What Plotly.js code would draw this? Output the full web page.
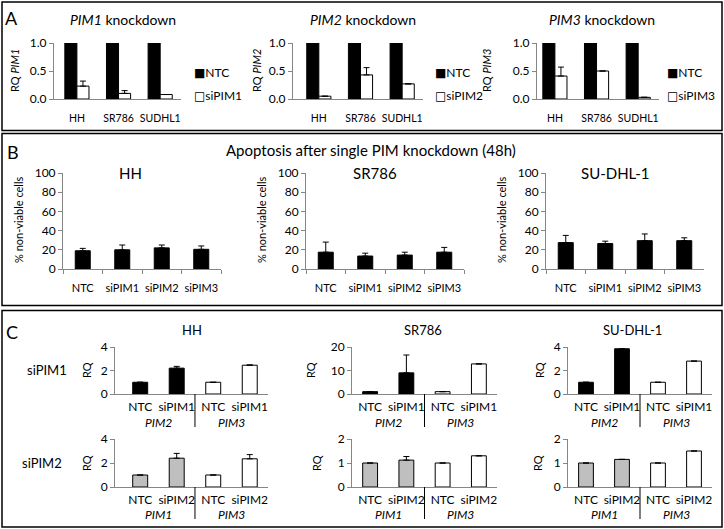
<!DOCTYPE html>
<html><head><meta charset="utf-8">
<script src="https://cdn.plot.ly/plotly-3.0.1.min.js"></script>
<style>html,body{margin:0;padding:0;background:#fff}#chart{width:724px;height:529px}</style>
</head><body><div id="chart"></div>
<script>
// ---------------- data ----------------
// Panel A: knockdown efficiency (RQ)
const aCells = ['HH', 'SR786', 'SUDHL1'];
const aGenes = ['PIM1', 'PIM2', 'PIM3'];
const aSiNames = ['siPIM1', 'siPIM2', 'siPIM3'];
const aNTC = [1, 1, 1];
const aSiPIM1 = [0.23, 0.10, 0.08];
const aSiPIM1Err = [0.09, 0.05, 0];
const aSiPIM2 = [0.05, 0.43, 0.27];
const aSiPIM2Err = [0, 0.13, 0];
const aSiPIM3 = [0.41, 0.50, 0.03];
const aSiPIM3Err = [0.16, 0, 0];

// Panel B: % non-viable cells
const bTitle = 'Apoptosis after single PIM knockdown (48h)';
const bCats = ['NTC', 'siPIM1', 'siPIM2', 'siPIM3'];
const bLines = ['HH', 'SR786', 'SU-DHL-1'];
const bHH = [19, 20, 22, 20.5];
const bHHErr = [2.5, 5, 3, 3.5];
const bSR786 = [17.5, 13.5, 14.5, 17.5];
const bSR786Err = [10.5, 3, 3, 5];
const bSUDHL1 = [27.5, 26.5, 29.5, 29.5];
const bSUDHL1Err = [7.5, 2.5, 7, 3];

// Panel C: cross-regulation (RQ)
const cLines = ['HH', 'SR786', 'SU-DHL-1'];
const cRows = ['siPIM1', 'siPIM2'];
const cCats1 = ['NTC', 'siPIM1', 'NTC', 'siPIM1'];
const cGroups1 = ['PIM2', 'PIM3'];
const cHH1 = [1, 2.2, 1, 2.45];
const cHH1Err = [0, 0.15, 0, 0.03];
const cSR7861 = [1, 9, 1, 12.8];
const cSR7861Err = [0, 7.6, 0, 0];
const cSUDHL11 = [1, 3.85, 1, 2.8];
const cSUDHL11Err = [0, 0, 0, 0];
const cCats2 = ['NTC', 'siPIM2', 'NTC', 'siPIM2'];
const cGroups2 = ['PIM1', 'PIM3'];
const cHH2 = [1, 2.4, 1, 2.35];
const cHH2Err = [0, 0.4, 0, 0.35];
const cSR7862 = [1, 1.12, 1, 1.3];
const cSR7862Err = [0, 0.15, 0, 0];
const cSUDHL12 = [1, 1.15, 1, 1.5];
const cSUDHL12Err = [0, 0, 0, 0];

// ---------------- layout helpers ----------------
const W = 724, H = 529;
const fx = p => p / W;
const fy = p => 1 - p / H;
const FONT = 'Lato, "Liberation Sans", sans-serif';
const AX = '#868686';
const GREY = '#bfbfbf';

const traces = [];
const layout = {
  width: W, height: H,
  margin: {l: 0, r: 0, t: 0, b: 0},
  paper_bgcolor: '#fff', plot_bgcolor: 'rgba(0,0,0,0)',
  font: {family: FONT, color: '#000', size: 12},
  barmode: 'overlay',
  showlegend: false,
  annotations: [], shapes: []
};

function ann(text, x, y, size, extra) {
  layout.annotations.push(Object.assign({
    text: text, x: fx(x), y: fy(y), xref: 'paper', yref: 'paper',
    showarrow: false, xanchor: 'center', yanchor: 'middle',
    font: {family: FONT, size: size, color: '#000'}
  }, extra || {}));
}

function errY(arr) {
  return {type: 'data', array: arr, arrayminus: arr.map(() => 0), symmetric: false,
          color: '#000', thickness: 1, width: 3};
}

function setAxes(n, xdom, xrange, ydom, yrange, ytickvals, ytickformat, xextra, yextra) {
  const xs = n === 1 ? 'xaxis' : 'xaxis' + n;
  const ys = n === 1 ? 'yaxis' : 'yaxis' + n;
  layout[xs] = Object.assign({
    domain: [fx(xdom[0]), fx(xdom[1])], range: xrange, anchor: 'y' + n,
    showline: true, linecolor: AX, linewidth: 1, showgrid: false, zeroline: false,
    ticks: '', tickangle: 0, automargin: false, fixedrange: true,
    tickfont: {family: FONT, size: 12, color: '#000'}
  }, xextra || {});
  layout[ys] = Object.assign({
    domain: [fy(ydom[1]), fy(ydom[0])], range: yrange, anchor: 'x' + n,
    showline: true, linecolor: AX, linewidth: 1, showgrid: false, zeroline: false,
    ticks: 'outside', ticklen: 4, tickcolor: AX, tickvals: ytickvals,
    tickformat: ytickformat, fixedrange: true, automargin: false,
    tickfont: {family: FONT, size: 12, color: '#000'}
  }, yextra || {});
}

// ---------------- Panel A ----------------
const aSi = [aSiPIM1, aSiPIM2, aSiPIM3];
const aSiErr = [aSiPIM1Err, aSiPIM2Err, aSiPIM3Err];
const aPos = [
  {x0: 54, x1: 181, r0: -0.55, yl: 15, tc: 123, lg: 192},
  {x0: 293, x1: 423, r0: -0.62, yl: 257, tc: 363, lg: 433},
  {x0: 537, x1: 659, r0: -0.43, yl: 487, tc: 602, lg: 665}
];
aGenes.forEach((g, i) => {
  const n = i + 1;
  traces.push({
    type: 'bar', x: aCells, y: aNTC, name: 'NTC', xaxis: 'x' + n, yaxis: 'y' + n,
    offset: -0.29, width: 0.29,
    marker: {color: '#000', line: {color: '#000', width: 1}}, hoverinfo: 'none'
  });
  traces.push({
    type: 'bar', x: aCells, y: aSi[i], name: aSiNames[i], xaxis: 'x' + n, yaxis: 'y' + n,
    offset: 0, width: 0.29,
    marker: {color: '#fff', line: {color: '#000', width: 1}},
    error_y: errY(aSiErr[i]), hoverinfo: 'none'
  });
  const p = aPos[i];
  setAxes(n, [p.x0, p.x1], [p.r0, 2.5], [43, 99], [0, 1], [0, 0.5, 1], '.1f',
          {ticklabelstandoff: 9, tickfont: {family: FONT, size: 10.5, color: '#000'}}, {});
  // legend keys (per subplot)
  ann('<span style="font-family:DejaVu Sans">■</span>NTC', p.lg, 73, 12, {xanchor: 'left'});
  ann('<span style="font-family:DejaVu Sans">□</span>' + aSiNames[i], p.lg, 96, 12, {xanchor: 'left'});
  ann('<i>' + g + '</i> knockdown', p.tc, 19, 14);
  ann('RQ <i>' + g + '</i>', p.yl, 71, 11, {textangle: -90});
});
ann('A', 11, 18, 18);

// ---------------- Panel B ----------------
const bVals = [bHH, bSR786, bSUDHL1];
const bErrs = [bHHErr, bSR786Err, bSUDHL1Err];
const bPos = [
  {x0: 63, x1: 221, yl: 18, tc: 130},
  {x0: 306, x1: 464, yl: 261, tc: 375},
  {x0: 546, x1: 704, yl: 501, tc: 615}
];
bLines.forEach((cl, i) => {
  const n = i + 4;
  traces.push({
    type: 'bar', x: bCats, y: bVals[i], xaxis: 'x' + n, yaxis: 'y' + n,
    width: 0.38,
    marker: {color: '#000', line: {color: '#000', width: 1}},
    error_y: errY(bErrs[i]), hoverinfo: 'none'
  });
  const p = bPos[i];
  setAxes(n, [p.x0, p.x1], [-0.5, 3.5], [173, 269], [0, 100], [0, 20, 40, 60, 80, 100], 'd',
          {ticks: 'outside', tickson: 'boundaries', ticklen: 4, tickcolor: AX, ticklabelstandoff: 9,
           tickfont: {family: FONT, size: 11, color: '#000'}}, {});
  ann(cl, p.tc, 173, 15);
  ann('% non-viable cells', p.yl, 220, 11, {textangle: -90});
});
ann('B', 13, 152, 18);
ann(bTitle, 371, 150, 15);

// ---------------- Panel C ----------------
const cVals = [[cHH1, cSR7861, cSUDHL11], [cHH2, cSR7862, cSUDHL12]];
const cErrs = [[cHH1Err, cSR7861Err, cSUDHL11Err], [cHH2Err, cSR7862Err, cSUDHL12Err]];
const cCats = [cCats1, cCats2];
const cGroups = [cGroups1, cGroups2];
const cRowColors = [['#000', '#000', '#fff', '#fff'], [GREY, GREY, '#fff', '#fff']];
const cRowY = [{top: 347, bot: 394, grp: 422, sepEnd: 427, mid: 370},
               {top: 439, bot: 487, grp: 514, sepEnd: 519, mid: 463}];
const cColX = [{x0: 115, x1: 268, r0: -0.69, tc: 192, yl: [86, 86]},
               {x0: 352, x1: 497, r0: -0.5, tc: 423, yl: [310, 316]},
               {x0: 568, x1: 712, r0: -0.5, tc: 632, yl: [539, 537]}];
const cRanges = [[[0, 4], [0, 20], [0, 4]], [[0, 4], [0, 2], [0, 2]]];
const cTicks = [[[0, 2, 4], [0, 10, 20], [0, 2, 4]], [[0, 2, 4], [0, 1, 2], [0, 1, 2]]];

cRows.forEach((row, r) => {
  cLines.forEach((cl, c) => {
    const n = 7 + r * 3 + c;
    const xs = cCats[r].map((_, i) => i);
    traces.push({
      type: 'bar', x: xs, y: cVals[r][c], xaxis: 'x' + n, yaxis: 'y' + n,
      width: 0.41,
      marker: {color: cRowColors[r], line: {color: '#000', width: 1}},
      error_y: errY(cErrs[r][c]), hoverinfo: 'none'
    });
    const p = cColX[c], q = cRowY[r];
    setAxes(n, [p.x0, p.x1], [p.r0, 3.5], [q.top, q.bot], cRanges[r][c], cTicks[r][c], 'd',
            {tickmode: 'array', tickvals: xs, ticktext: cCats[r], ticklabelstandoff: 2}, {});
    const half = cCats[r].length / 2;
    cGroups[r].forEach((g, gi) => {
      layout.annotations.push({
        text: '<i>' + g + '</i>', x: gi * half + (half - 1) / 2, y: fy(q.grp),
        xref: 'x' + n, yref: 'paper', showarrow: false, xanchor: 'center', yanchor: 'middle',
        font: {family: FONT, size: 12, color: '#000'}
      });
    });
    layout.shapes.push({
      type: 'line', xref: 'x' + n, yref: 'paper', x0: half - 0.5, x1: half - 0.5,
      y0: fy(q.bot), y1: fy(q.sepEnd), line: {color: '#000', width: 1}
    });
    ann('RQ', p.yl[r], q.mid, 11, {textangle: -90});
    if (r === 0) ann(cl, p.tc, 330, 13);
  });
  ann(row, r === 0 ? 47 : 42, cRowY[r].mid, 13);
});
ann('C', 12, 332, 18);

// ---------------- panel frames ----------------
[[2, 2, 722, 130.5], [2, 133.5, 722, 305.5], [2, 310.5, 722, 527]].forEach(b => {
  layout.shapes.push({
    type: 'rect', xref: 'paper', yref: 'paper',
    x0: fx(b[0]), x1: fx(b[2]), y0: fy(b[3]), y1: fy(b[1]),
    line: {color: '#000', width: 1.5}, fillcolor: 'rgba(0,0,0,0)'
  });
});

Plotly.newPlot('chart', traces, layout, {staticPlot: true, displayModeBar: false});
</script>
</body></html>
